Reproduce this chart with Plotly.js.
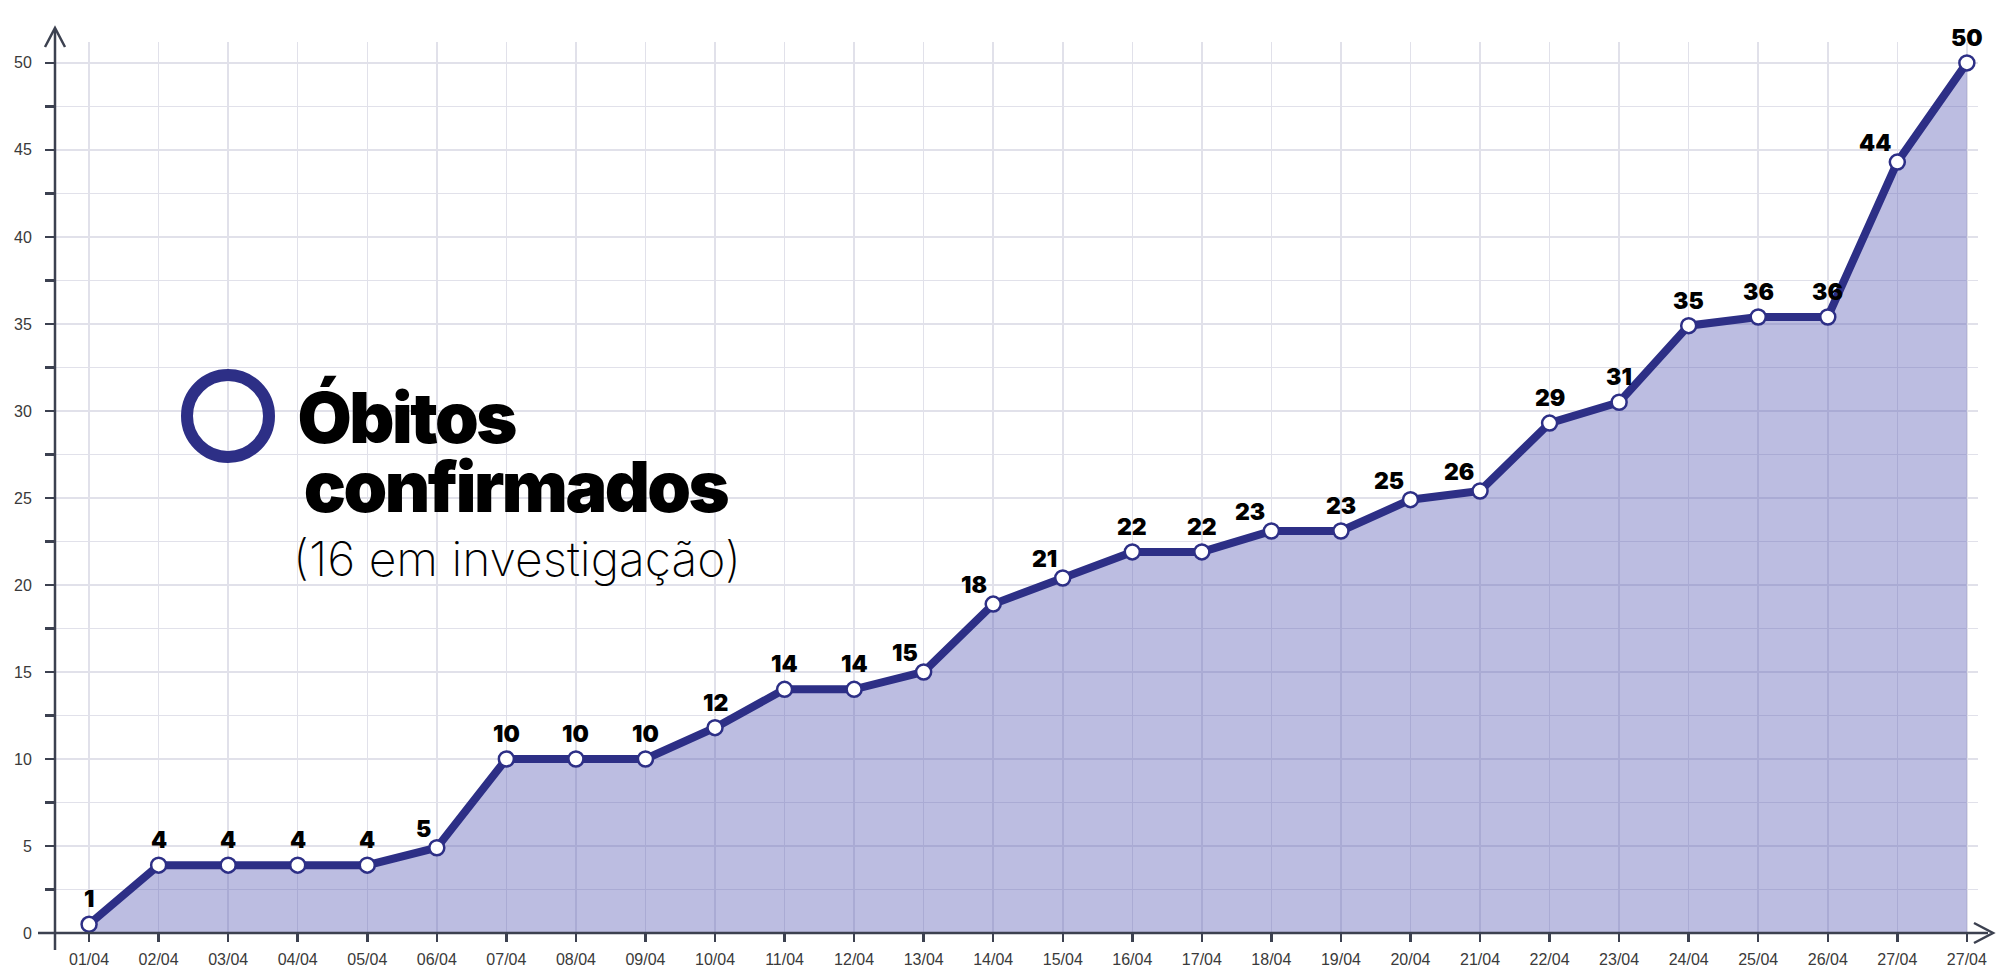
<!DOCTYPE html>
<html>
<head>
<meta charset="utf-8">
<script src="https://cdn.plot.ly/plotly-3.0.1.min.js"></script>
<style>
  html, body { margin: 0; padding: 0; background: #ffffff; }
  #chart { width: 1997px; height: 969px; }
</style>
</head>
<body>
<div id="chart"></div>
<script>
// ---- Data ----
const dateLabels = ['01/04','02/04','03/04','04/04','05/04','06/04','07/04','08/04','09/04','10/04',
                    '11/04','12/04','13/04','14/04','15/04','16/04','17/04','18/04','19/04','20/04',
                    '21/04','22/04','23/04','24/04','25/04','26/04','27/04','27/04'];
// heights at which the points are drawn in the picture
const plottedDeaths = [0.5, 3.9, 3.9, 3.9, 3.9, 4.9, 10, 10, 10, 11.8,
                       14, 14, 15, 18.9, 20.4, 21.9, 21.9, 23.1, 23.1, 24.9,
                       25.4, 29.3, 30.5, 34.9, 35.4, 35.4, 44.3, 50];
// numbers written above the points
const deathLabels = [1, 4, 4, 4, 4, 5, 10, 10, 10, 12,
                     14, 14, 15, 18, 21, 22, 22, 23, 23, 25,
                     26, 29, 31, 35, 36, 36, 44, 50];
const yTickValues = [0, 5, 10, 15, 20, 25, 30, 35, 40, 45, 50];
const titleMain = ['Óbitos', 'confirmados'];
const titleSub = '(16 em investigação)';

// ---- Layout geometry ----
const W = 1997, H = 969;
const M = { l: 55, r: 19, t: 42, b: 36 };
const plotW = W - M.l - M.r, plotH = H - M.t - M.b;
const px = p => (p - M.l) / plotW;          // pixel x -> paper x
const py = p => (H - M.b - p) / plotH;      // pixel y -> paper y

const navy = '#2d2f86';
const axisCol = '#3c4150';
const gridCol = '#e1e1ea';

const xIdx = dateLabels.map((_, i) => i);
const leftLabels = new Set([5, 12, 13, 14, 17, 19, 20, 26]);

const trace = {
  x: xIdx,
  y: plottedDeaths,
  type: 'scatter',
  mode: 'lines+markers',
  fill: 'tozeroy',
  fillcolor: 'rgba(88,90,180,0.40)',
  line: { color: navy, width: 8 },
  marker: { size: 15, color: '#ffffff', line: { color: navy, width: 2.5 } },
  hoverinfo: 'skip',
  cliponaxis: false
};

const labelFont = { family: 'Inter, Liberation Sans, sans-serif', size: 23, weight: 900, color: '#000000' };
const valueAnnotations = xIdx.map(i => {
  const left = leftLabels.has(i);
  return {
    x: i, y: plottedDeaths[i], xref: 'x', yref: 'y',
    text: String(deathLabels[i]), showarrow: false,
    xanchor: left ? 'right' : 'center', yanchor: 'middle',
    xshift: left ? -4 : 0, yshift: left ? 19 : 25,
    font: labelFont
  };
});

const shapes = [
  // y axis line
  { type: 'line', xref: 'paper', yref: 'paper', x0: 0, x1: 0, y0: py(950), y1: py(29),
    line: { color: axisCol, width: 2.5 } },
  // x axis line
  { type: 'line', xref: 'paper', yref: 'paper', x0: px(38), x1: px(1988), y0: py(933), y1: py(933),
    line: { color: axisCol, width: 2.5 } },
  // y arrow head
  { type: 'path', xref: 'paper', yref: 'paper',
    path: `M ${px(45)} ${py(47)} L ${px(55)} ${py(28)} L ${px(65)} ${py(47)}`,
    line: { color: axisCol, width: 2.5 } },
  // x arrow head
  { type: 'path', xref: 'paper', yref: 'paper',
    path: `M ${px(1974)} ${py(923)} L ${px(1993)} ${py(933)} L ${px(1974)} ${py(943)}`,
    line: { color: axisCol, width: 2.5 } },
  // legend ring
  { type: 'circle', xref: 'paper', yref: 'paper', xsizemode: 'pixel', ysizemode: 'pixel',
    xanchor: px(228), yanchor: py(416), x0: -41, x1: 41, y0: -41, y1: 41,
    line: { color: navy, width: 12 }, fillcolor: 'rgba(0,0,0,0)' }
];

const titleAnnotations = [
  { text: titleMain[0], xref: 'paper', yref: 'paper', x: px(288), y: py(418), xanchor: 'left', yanchor: 'middle',
    showarrow: false, font: { family: 'Inter, sans-serif', size: 70, weight: 900, color: '#000' } },
  { text: titleMain[1], xref: 'paper', yref: 'paper', x: px(288), y: py(487), xanchor: 'left', yanchor: 'middle',
    showarrow: false, font: { family: 'Inter, sans-serif', size: 70, weight: 900, color: '#000' } },
  { text: titleSub, xref: 'paper', yref: 'paper', x: px(291), y: py(558), xanchor: 'left', yanchor: 'middle',
    showarrow: false, font: { family: 'Inter, sans-serif', size: 48, weight: 200, color: '#000' } }
];

const layout = {
  width: W, height: H,
  margin: M,
  paper_bgcolor: '#ffffff',
  plot_bgcolor: '#ffffff',
  showlegend: false,
  xaxis: {
    range: [-0.49, 27.16],
    tickmode: 'array', tickvals: xIdx, ticktext: dateLabels,
    showgrid: true, gridcolor: gridCol, gridwidth: 1.5,
    zeroline: false, showline: false,
    ticks: 'outside', ticklen: 8, tickwidth: 2.5, tickcolor: axisCol,
    ticklabelstandoff: 4,
    tickfont: { family: 'Liberation Sans, Arial, sans-serif', size: 16, color: '#3a3a3a' },
    fixedrange: true
  },
  yaxis: {
    range: [0, 51.2],
    tickmode: 'array', tickvals: yTickValues,
    showgrid: true, gridcolor: gridCol, gridwidth: 1.5,
    minor: { dtick: 2.5, ticks: 'outside', ticklen: 9, tickwidth: 2.5, tickcolor: axisCol,
             showgrid: true, gridcolor: gridCol, gridwidth: 1.5 },
    zeroline: false, showline: false,
    ticks: 'outside', ticklen: 9, tickwidth: 2.5, tickcolor: axisCol,
    ticklabelstandoff: 10,
    tickfont: { family: 'Liberation Sans, Arial, sans-serif', size: 16, color: '#3a3a3a' },
    fixedrange: true
  },
  shapes: shapes,
  annotations: titleAnnotations.concat(valueAnnotations)
};

Plotly.newPlot('chart', [trace], layout, { displayModeBar: false, staticPlot: true }).then(() => {
  const spacing = { 0: '-2.5px', 1: '-2.5px', 2: '0px' };
  document.querySelectorAll('g.annotation').forEach(g => {
    const idx = g.getAttribute('data-index');
    const t = g.querySelector('text.annotation-text');
    if (t && spacing[idx] !== undefined) t.style.letterSpacing = spacing[idx];
  });
});
</script>
</body>
</html>
